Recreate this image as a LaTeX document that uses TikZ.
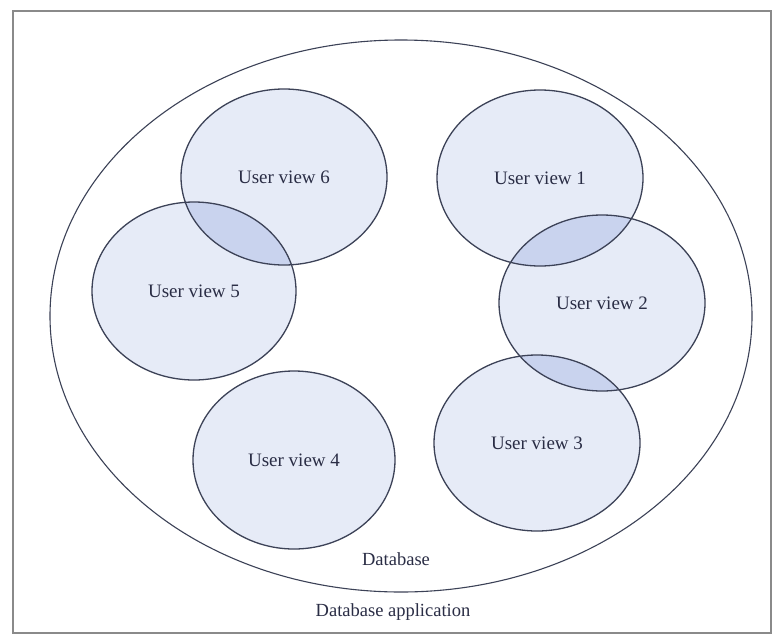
\documentclass[tikz,border=0pt]{standalone}
\usepackage{fontspec}
\setmainfont{Liberation Serif}
\definecolor{viewfill}{HTML}{E6EBF7}
\definecolor{overlapfill}{HTML}{C9D3EE}
\definecolor{linecol}{HTML}{3C4257}
\definecolor{textcol}{HTML}{2A2D45}
\definecolor{framecol}{HTML}{8A8A8A}
\tikzset{
  viewline/.style={draw=linecol, line width=1.3pt},
  viewlabel/.style={text=textcol, font=\fontsize{19}{22}\selectfont, inner sep=0pt},
  dblabel/.style={text=textcol, font=\fontsize{18.5}{22}\selectfont, inner sep=0pt}
}
\begin{document}
\begin{tikzpicture}[x=1pt,y=-1pt]
\useasboundingbox (0,0) rectangle (775,642);
\fill[white] (0,0) rectangle (775,642);
% frame
\node[draw=framecol, line width=1.2pt, minimum width=758pt, minimum height=622pt, inner sep=0pt] (frame) at (392,322) {};
% centres
\coordinate (c6) at (284,177);
\coordinate (c5) at (194,291);
\coordinate (c1) at (540,178);
\coordinate (c2) at (602,303);
\coordinate (c4) at (294,460);
\coordinate (c3) at (537,443);
\coordinate (db) at (401,316);
% database ellipse
\draw[viewline, line width=1.1pt] (db) ellipse [x radius=351, y radius=276];
% fills
\foreach \c/\rx/\ry in {c6/103/88, c5/102/89, c1/103/88, c2/103/88, c4/101/89, c3/103/88}
  \fill[viewfill] (\c) ellipse [x radius=\rx, y radius=\ry];
% overlaps
\begin{scope}
  \clip (c6) ellipse [x radius=103, y radius=88];
  \fill[overlapfill] (c5) ellipse [x radius=102, y radius=89];
\end{scope}
\begin{scope}
  \clip (c1) ellipse [x radius=103, y radius=88];
  \fill[overlapfill] (c2) ellipse [x radius=103, y radius=88];
\end{scope}
\begin{scope}
  \clip (c2) ellipse [x radius=103, y radius=88];
  \fill[overlapfill] (c3) ellipse [x radius=103, y radius=88];
\end{scope}
% outlines
\foreach \c/\rx/\ry in {c6/103/88, c5/102/89, c1/103/88, c2/103/88, c4/101/89, c3/103/88}
  \draw[viewline] (\c) ellipse [x radius=\rx, y radius=\ry];
% labels
\node[viewlabel] (v6) at (c6) {User view 6};
\node[viewlabel] (v5) at (c5) {User view 5};
\node[viewlabel] (v1) at (c1) {User view 1};
\node[viewlabel] (v2) at (c2) {User view 2};
\node[viewlabel] (v4) at (c4) {User view 4};
\node[viewlabel] (v3) at (c3) {User view 3};
\node[dblabel] (dbl) at (396,559) {Database};
\node[dblabel] (app) at (393,612) {Database application};
\end{tikzpicture}
\end{document}
